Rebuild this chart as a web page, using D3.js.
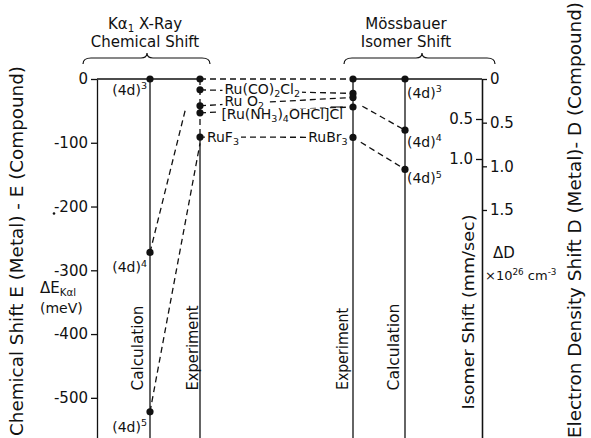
<!DOCTYPE html>
<html><head><meta charset="utf-8">
<script src="https://cdn.jsdelivr.net/npm/d3@7"></script>
<style>
body{margin:0;background:#fff}
svg text{font-family:"DejaVu Sans","Open Sans",sans-serif;fill:#111}
</style></head><body>
<svg id="c" width="591" height="438"></svg>
<script>
// ---------- data ----------
const columns = ["Kα axis","Kα calc","Kα exp","Mössbauer exp","Mössbauer calc","Mössbauer axis"];
const chemTicks = [0,-100,-200,-300,-400,-500];       // meV
const isoTicks = [0.5,1.0];                            // mm/sec
const densTicks = [0,0.5,1.0,1.5];                     // 10^26 cm^-3
const configs = [["(4d)","3"],["(4d)","4"],["(4d)","5"]];
const kaCalc = [0,-272,-522];                          // meV
const mossCalc = [0,0.64,1.13];                        // mm/sec
const compounds = ["Metal","Ru(CO)2Cl2","RuO2","[Ru(NH3)4OHCl]Cl","RuF3 / RuBr3"];
const kaExp = [0,-17,-42,-53,-91];                     // meV
const mossExp = [0,0.18,0.23,0.35,0.73];               // mm/sec
const kaGuides = [{from:-272,toCol:1.72,to:-44},{from:-522,toCol:2,to:-101}];
const mossGuides = [{fromCol:3.18,from:0.34,to:0.64},{fromCol:3.15,from:0.79,to:1.13}];

// ---------- layout ----------
const svg = d3.select("#c");
const x = d3.scaleLinear().domain([0,1,2,3,4,5]).range([97,150,200,353,405,482]);
const yE = d3.scaleLinear().domain([0,-563]).range([79,438]);
const yIS = d3.scaleLinear().domain([0,4.4875]).range([79,438]);
const yD = d3.scaleLinear().domain([0,4.111]).range([79,438]);
const bottom = 438, ink = "#111", sw = 1.3, dash = "6,4";

function rich(t, parts, fs){
  let shift = 0; const spans=[];
  parts.forEach(([s,m])=>{
    const target = m==="sub" ? fs*0.2 : m==="sup" ? -fs*0.42 : 0;
    const ts = t.append("tspan").text(s).attr("dy", target-shift);
    if(m==="sub"||m==="sup") ts.attr("font-size", fs*0.68);
    spans.push([ts,m]);
    shift = target;
  });
  return spans;
}
function line(x1,y1,x2,y2,dashed){
  svg.append("line").attr("x1",x1).attr("y1",y1).attr("x2",x2).attr("y2",y2)
    .attr("stroke",ink).attr("stroke-width",sw).attr("stroke-dasharray",dashed?dash:null);
}

// ---------- axes ----------
function styleAxis(g, fs){
  g.attr("font-family",null).attr("font-size",null);
  g.selectAll("path,line").attr("stroke",ink).attr("stroke-width",sw);
  g.selectAll("text").attr("font-size",fs).attr("fill",ink);
}
svg.append("g").attr("transform",`translate(${x(0)},0)`)
  .call(d3.axisLeft(yE).tickValues(chemTicks).tickSize(6).tickSizeOuter(0).tickPadding(3)
    .tickFormat(d=>String(d))).call(g=>styleAxis(g,15));
svg.append("g").attr("transform",`translate(${x(5)},0)`)
  .call(d3.axisLeft(yIS).tickValues(isoTicks).tickSize(6).tickSizeOuter(0).tickPadding(3)
    .tickFormat(d3.format(".1f"))).call(g=>styleAxis(g,15));
svg.append("g").attr("transform",`translate(${x(5)},0)`)
  .call(d3.axisRight(yD).tickValues(densTicks).tickSize(5).tickSizeOuter(0).tickPadding(3)
    .tickFormat(d=>d===0?"0":d3.format(".1f")(d))).call(g=>styleAxis(g,15));

// stray scan dot near -200
svg.append("circle").attr("cx",54).attr("cy",yE(-211)).attr("r",1.3).attr("fill",ink);

// ---------- frame lines ----------
line(x(0),yE(0),x(2),yE(0));
line(x(2),yE(0),x(3),yIS(0),true);
line(x(3),yIS(0),x(5),yIS(0));
line(x(1),yE(0),x(1),bottom);
line(x(2),yE(kaExp[0]),x(2),yE(kaExp[4]),true);
line(x(2),yE(kaExp[4]),x(2),bottom);
line(x(3),yIS(0),x(3),bottom);
line(x(4),yIS(0),x(4),bottom);

kaGuides.forEach(g=>line(x(1),yE(g.from),x(g.toCol),yE(g.to),true));
mossGuides.forEach(g=>line(x(g.fromCol),yIS(g.from),x(4),yIS(g.to),true));
for(let i=1;i<kaExp.length;i++) line(x(2),yE(kaExp[i]),x(3),yIS(mossExp[i]),true);

// ---------- compound labels ----------
const FS = 14;
const labelParts = [
  null,
  [["Ru(CO)",""],["2","sub"],["Cl",""],["2","sub"]],
  [["Ru O",""],["2","sub"]],
  [["[Ru(NH",""],["3","sub"],[")",""],["4","sub"],["OHCl]",""],["Cl","over"]],
  [["RuF",""],["3","sub"]]
];
const labelCol = [null,2.16,2.16,2.14,2.045];
const labelBase = [null,4,1.5,7,5];
function yOn(i,col){
  const y1=yE(kaExp[i]), y2=yIS(mossExp[i]);
  return y1+(y2-y1)*(x(col)-x(2))/(x(3)-x(2));
}
const maskG = svg.append("g"), textG = svg.append("g");
function place(i,col,parts,anchor){
  const ly=yOn(i,col);
  const t=textG.append("text").attr("x",x(col)).attr("y",ly+labelBase[i]).attr("font-size",FS)
    .attr("text-anchor",anchor||"start");
  const spans=rich(t,parts,FS);
  const b=t.node().getBBox();
  maskG.append("rect").attr("x",b.x-2).attr("y",ly-3.5).attr("width",b.width+4).attr("height",7).attr("fill","#fff");
  spans.forEach(([ts,m])=>{
    if(m!=="over") return;
    const n=ts.node(), p=n.getStartPositionOfChar(0), w=n.getComputedTextLength();
    textG.append("line").attr("x1",p.x+1).attr("x2",p.x+w-0.5).attr("y1",p.y-12).attr("y2",p.y-12)
      .attr("stroke",ink).attr("stroke-width",1.1);
  });
}
for(let i=1;i<labelParts.length;i++) place(i,labelCol[i],labelParts[i]);
place(4,2.965,[["RuBr",""],["3","sub"]],"end");

// ---------- dots ----------
const dots = [
  ...kaCalc.map(v=>[x(1),yE(v)]),
  ...kaExp.map(v=>[x(2),yE(v)]),
  ...mossExp.map(v=>[x(3),yIS(v)]),
  ...mossCalc.map(v=>[x(4),yIS(v)])
];
svg.selectAll("circle.d").data(dots).join("circle").attr("class","d")
  .attr("cx",d=>d[0]).attr("cy",d=>d[1]).attr("r",3.6).attr("fill",ink);

// config labels
const kaOff=[16,20,20], mossOff=[19,17,14];
kaCalc.forEach((v,i)=>{
  const t=svg.append("text").attr("x",x(1)-3).attr("y",yE(v)+kaOff[i]).attr("font-size",14).attr("text-anchor","end");
  rich(t,[[configs[i][0],""],[configs[i][1],"sup"]],14);
});
mossCalc.forEach((v,i)=>{
  const t=svg.append("text").attr("x",x(4)+2).attr("y",yIS(v)+mossOff[i]).attr("font-size",14);
  rich(t,[[configs[i][0],""],[configs[i][1],"sup"]],14);
});

// ---------- column titles ----------
function vtext(cx,cy,s,fs,len){
  const t=svg.append("text").attr("transform",`translate(${cx},${cy}) rotate(-90)`)
    .attr("text-anchor","middle").attr("dy","0.35em").attr("font-size",fs).text(s);
  if(len) t.attr("textLength",len).attr("lengthAdjust","spacingAndGlyphs");
  return t;
}
vtext(x(1)-12,348,"Calculation",15,85);
vtext(x(2)-7,348,"Experiment",15,85);
vtext(x(3)-10,349,"Experiment",15,82);
vtext(x(4)-11,347,"Calculation",15,87);

vtext(17,251,"Chemical Shift  E (Metal) - E (Compound)",17,370);
vtext(468,312,"Isomer Shift (mm/sec)",16,195);
vtext(575,220,"Electron Density Shift  D (Metal)- D (Compound)",17,436);

{
  const t=svg.append("text").attr("x",40).attr("y",293).attr("font-size",15);
  rich(t,[["ΔE",""],["Kαl","sub"]],15);
  svg.append("text").attr("x",40).attr("y",313).attr("font-size",14).text("(meV)");
  svg.append("text").attr("x",493).attr("y",258).attr("font-size",15).text("ΔD");
  const u=svg.append("text").attr("x",485).attr("y",280).attr("font-size",13);
  rich(u,[["×10",""],["26","sup"],[" cm",""],["-3","sup"]],13);
}

// ---------- group headers with braces ----------
function header(cx,l1,l2){
  const a=svg.append("text").attr("x",cx).attr("y",29).attr("text-anchor","middle").attr("font-size",15);
  rich(a,l1,15);
  svg.append("text").attr("x",cx).attr("y",47).attr("text-anchor","middle").attr("font-size",15).text(l2);
}
header(145,[["Kα",""],["1","sub"],[" X-Ray",""]],"Chemical Shift");
header(406,[["Mössbauer",""]],"Isomer Shift");
function brace(x0,xm,x1){
  const yt=58, ye=64, yc=53;
  const p=`M${x0},${ye} Q${x0},${yt} ${x0+8},${yt} L${xm-6},${yt} Q${xm},${yt} ${xm},${yc} Q${xm},${yt} ${xm+6},${yt} L${x1-8},${yt} Q${x1},${yt} ${x1},${ye}`;
  svg.append("path").attr("d",p).attr("fill","none").attr("stroke",ink).attr("stroke-width",1.2);
}
brace(83,147,210);
brace(344,422,495);
</script></body></html>
